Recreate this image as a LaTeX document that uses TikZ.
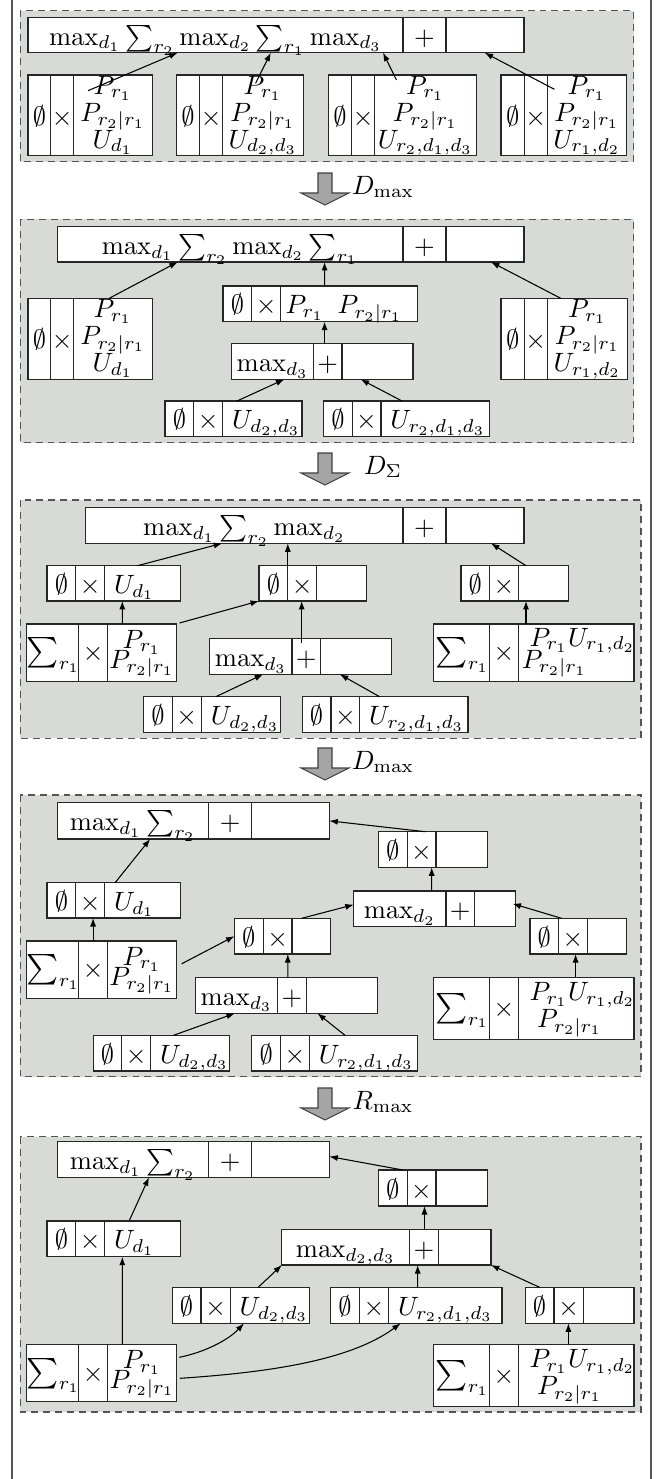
\documentclass[tikz,border=0pt]{standalone}
\usepackage{graphicx}
\usetikzlibrary{arrows.meta,calc}
\definecolor{panelgray}{RGB}{216,218,213}
\definecolor{arrowgray}{RGB}{165,165,165}
\definecolor{framegray}{RGB}{85,85,85}

% one drawing unit of the layout grid
\newcommand\pxu{0.377pt}

% record box: name, left, top, right, bottom, first divider, second divider
\newcommand\rec[7]{%
  \node[rec, minimum width={(#4-#2)*\pxu}, minimum height={(#5-#3)*\pxu}]
    (#1) at ({(#2+#4)/2},{(#3+#5)/2}) {};
  \draw[divl] (#6,#3) -- (#6,#5);
  \draw[divl] (#7,#3) -- (#7,#5);
  \coordinate (#1a) at ({(#2+#6)/2},{(#3+#5)/2});
  \coordinate (#1b) at ({(#6+#7)/2},{(#3+#5)/2});
  \coordinate (#1c) at ({(#7+#4)/2},{(#3+#5)/2});
  \coordinate (#1w) at (#7,{(#3+#5)/2});
}
% a slightly enlarged summation sign
\newcommand\bigsum{\mathop{\scalebox{1.15}{$\sum$}}\nolimits}
% empty set and product cells
\newcommand\ox[1]{%
  \node[ln] (#1x) at ($(#1a)+(0,10)$) {$\emptyset$};
  \node[ln] (#1y) at ($(#1b)+(0,10)$) {$\times$};}
% summation and product cells
\newcommand\sx[1]{%
  \node[ln] (#1x) at ($(#1a)+(1,8)$) {$\bigsum_{r_1}$};
  \node[ln] (#1y) at ($(#1b)+(0,8)$) {$\times$};}
% operator sequence and sum cells
\newcommand\tx[2]{%
  \node[ln] (#1x) at ($(#1a)+(0,10)$) {$#2$};
  \node[ln] (#1y) at ($(#1b)+(0,10)$) {$+$};}
% single factor in the last cell
\newcommand\ut[2]{\node[lnw] (#1z) at ($(#1w)+(9,10)$) {$#2$};}
% three stacked factors
\newcommand\three[4]{%
  \node[ln] (#1z1) at ($(#1c |- #1.north)+(0,19)$) {$#2$};
  \node[ln] (#1z2) at ($(#1c |- #1.north)+(0,46)$) {$#3$};
  \node[ln] (#1z3) at ($(#1c |- #1.north)+(0,73)$) {$#4$};}
% two stacked factors, centred
\newcommand\two[5]{%
  \node[ln] (#1z1) at ($(#1c |- #1.north)+(0,#4)$) {$#2$};
  \node[ln] (#1z2) at ($(#1c |- #1.north)+(0,#5)$) {$#3$};}
% two stacked factors, placed from the cell's left side
\newcommand\twol[7]{%
  \node[lnw] (#1z1) at ($(#1w |- #1.north)+(#4,#5)$) {$#2$};
  \node[lnw] (#1z2) at ($(#1w |- #1.north)+(#6,#7)$) {$#3$};}
% transformation step between two stages
\newcommand\step[3]{%
  \draw[bigarrow] (318,#1) -- (332,#1) -- (332,#1+20) -- (349,#1+20)
    -- (325,#1+32) -- (301,#1+20) -- (318,#1+20) -- cycle;
  \node[ln] (#3) at (383,#1+21) {$#2$};}

\tikzset{
  rec/.style={draw=black!85, fill=white, line width=0.45pt, inner sep=0pt, outer sep=0pt},
  divl/.style={draw=black!85, line width=0.45pt},
  ln/.style={anchor=base, inner sep=0pt},
  lnw/.style={anchor=base west, inner sep=0pt},
  panel/.style={fill=panelgray, draw=framegray, line width=0.5pt, dash pattern=on 2.6pt off 1.9pt},
  frame/.style={draw=framegray, line width=0.55pt},
  arr/.style={-{Latex[length=3.2pt,width=2.3pt]}, line width=0.4pt},
  bigarrow/.style={fill=arrowgray, draw=black!75, line width=0.4pt},
}

\begin{document}
\begin{tikzpicture}[x=\pxu, y=-\pxu]
\useasboundingbox (0,0) rectangle (663,1479);
\draw[frame] (12,0) -- (12,1479);
\draw[frame] (651,0) -- (651,1479);

% ---------------- stage 1
\draw[panel] (20.3,10.5) rectangle (633.5,161.7);
\rec{T1}{28}{17.3}{524}{52.7}{403}{446}
\tx{T1}{\max_{d_1}\sum_{r_2}\max_{d_2}\sum_{r_1}\max_{d_3}}
\rec{A1}{28}{75}{152.4}{155.7}{50.8}{73.6}\ox{A1}
\three{A1}{P_{r_1}}{P_{r_2|r_1}}{U_{d_1}}
\rec{B1}{176.5}{75}{303.4}{155.7}{199.7}{222.6}\ox{B1}
\three{B1}{P_{r_1}}{P_{r_2|r_1}}{U_{d_2,d_3}}
\rec{C1}{328.4}{75}{476.5}{155.7}{351.7}{374.5}\ox{C1}
\three{C1}{P_{r_1}}{P_{r_2|r_1}}{U_{r_2,d_1,d_3}}
\rec{D1}{501}{75}{626.8}{155.7}{524.4}{547.2}\ox{D1}
\three{D1}{P_{r_1}}{P_{r_2|r_1}}{U_{r_1,d_2}}
\draw[arr] ($(A1.north west)+(60,15.7)$) -- ($(T1.south west)+(149.7,0)$);
\draw[arr] ($(B1.north west)+(79.1,8.3)$) -- ($(T1.south west)+(242.8,0)$);
\draw[arr] ($(C1.north west)+(68.1,5)$) -- ($(T1.south west)+(355,0)$);
\draw[arr] ($(D1.north west)+(53.4,14.3)$) -- ($(T1.south west)+(456.6,0)$);

\step{173}{D_{\max}}{lab1}

% ---------------- stage 2
\draw[panel] (20.3,219.3) rectangle (633.5,442.7);
\rec{T2}{57.1}{226.7}{524}{262}{403}{446}
\tx{T2}{\max_{d_1}\sum_{r_2}\max_{d_2}\sum_{r_1}}
\rec{A2}{28}{298.3}{152.4}{379.3}{50.8}{73.6}\ox{A2}
\three{A2}{P_{r_1}}{P_{r_2|r_1}}{U_{d_1}}
\rec{D2}{501}{298.3}{627.6}{379.3}{524.4}{547.2}\ox{D2}
\three{D2}{P_{r_1}}{P_{r_2|r_1}}{U_{r_1,d_2}}
\rec{M2}{223}{286}{417.7}{321.7}{251.8}{280.6}\ox{M2}
\node[ln] (M2z) at ($(M2c)+(-5,10)$) {$P_{r_1}\enskip P_{r_2|r_1}$};
\rec{X2}{231.9}{343.7}{413}{379.3}{313.6}{342}\tx{X2}{\max_{d_3}}
\rec{E2}{165}{401}{302}{436.7}{193.8}{222.6}\ox{E2}\ut{E2}{U_{d_2,d_3}}
\rec{F2}{323.7}{401}{489.6}{436.7}{352.1}{380.9}\ox{F2}\ut{F2}{U_{r_2,d_1,d_3}}
\draw[arr] ($(A2.north west)+(81.2,0)$) -- ($(T2.south west)+(120.6,0)$);
\draw[arr] ($(M2.north west)+(101.6,0)$) -- ($(T2.south west)+(267.5,0)$);
\draw[arr] ($(D2.north west)+(59.7,0)$) -- ($(T2.south west)+(433.9,0)$);
\draw[arr] ($(X2.north west)+(92.7,0)$) -- ($(M2.south west)+(101.6,0)$);
\draw[arr] ($(E2.north west)+(72,0)$) -- ($(X2.south west)+(52.5,0)$);
\draw[arr] ($(F2.north west)+(78.3,0)$) -- ($(X2.south west)+(128.7,0)$);

\step{453}{D_{\Sigma}}{lab2}

% ---------------- stage 3
\draw[panel] (20.3,500) rectangle (641,738.3);
\rec{T3}{85.9}{507.7}{524}{543.3}{403}{446}
\tx{T3}{\max_{d_1}\sum_{r_2}\max_{d_2}}
\rec{L13}{47}{565.7}{180.7}{601}{75.8}{104.5}\ox{L13}\ut{L13}{U_{d_1}}
\rec{M13}{259}{565.7}{366.5}{601}{287.8}{316.6}\ox{M13}
\rec{R13}{460.9}{565.7}{568.8}{601}{489.6}{518.4}\ox{R13}
\rec{L23}{26.2}{624}{176.5}{681.7}{78.7}{107.5}\sx{L23}
\two{L23}{P_{r_1}}{P_{r_2|r_1}}{24}{44}
\rec{R23}{433.4}{624}{634}{681.7}{489.6}{518.4}\sx{R23}
\twol{R23}{P_{r_1}U_{r_1,d_2}}{P_{r_2|r_1}}{10.6}{22}{3}{44}
\rec{X3}{209.9}{638.7}{391.5}{674.3}{292}{320.4}\tx{X3}{\max_{d_3}}
\rec{E3}{143.9}{696.7}{280.2}{732.3}{172.2}{201.4}\ox{E3}\ut{E3}{U_{d_2,d_3}}
\rec{F3}{302.2}{696.7}{468}{732.3}{331}{359.7}\ox{F3}\ut{F3}{U_{r_2,d_1,d_3}}
\draw[arr] ($(L13.north west)+(90.5,0)$) -- ($(T3.south west)+(136.3,0)$);
\draw[arr] ($(M13.north west)+(28.8,0)$) -- ($(T3.south west)+(201.9,0)$);
\draw[arr] ($(R13.north west)+(65.1,0)$) -- ($(T3.south west)+(405.1,0)$);
\draw[arr] ($(L23.north west)+(96.1,0)$) -- ($(L13.south west)+(75.3,0)$);
\draw[arr] ($(L23.north east)+(3,-1)$) -- (M13.south west);
\draw[arr] ($(X3.north west)+(91.8,4.3)$) -- ($(M13.south west)+(42.7,0)$);
\draw[arr] ($(R23.north west)+(92.6,0)$) -- ($(R13.south west)+(65.1,0)$);
\draw[arr] ($(E3.north west)+(71.9,0)$) -- ($(X3.south west)+(53.3,0)$);
\draw[arr] ($(F3.north west)+(77.4,0)$) -- ($(X3.south west)+(129.9,0)$);

\step{748}{D_{\max}}{lab3}

% ---------------- stage 4
\draw[panel] (20.3,795) rectangle (641,1076.7);
\rec{T4}{57.1}{802.7}{329.3}{839}{208.6}{251.8}\tx{T4}{\max_{d_1}\sum_{r_2}}
\rec{U4}{378.3}{831.7}{487.5}{867.3}{407.1}{435.9}\ox{U4}
\rec{L14}{47}{882.7}{180.7}{918}{75.8}{104.5}\ox{L14}\ut{L14}{U_{d_1}}
\rec{Y4}{353.8}{891}{515.5}{926.3}{446}{474.4}\tx{Y4}{\max_{d_2}}
\rec{M4}{234.5}{918.3}{330.5}{954}{263.2}{292}\ox{M4}
\rec{R14}{529.9}{918.3}{626.3}{954}{558.6}{587.4}\ox{R14}
\rec{L24}{26.2}{941}{176.5}{998.7}{78.7}{107.5}\sx{L24}
\two{L24}{P_{r_1}}{P_{r_2|r_1}}{24}{44}
\rec{X4}{195.5}{977.3}{377.1}{1013.3}{277.6}{306.4}\tx{X4}{\max_{d_3}}
\rec{R24}{433.4}{977.3}{634}{1039.3}{489.6}{518.4}\sx{R24}
\twol{R24}{P_{r_1}U_{r_1,d_2}}{P_{r_2|r_1}}{10.6}{23}{18.2}{50}
\rec{E4}{93.1}{1035.3}{229.8}{1071}{121.9}{150.7}\ox{E4}\ut{E4}{U_{d_2,d_3}}
\rec{F4}{251.8}{1035.3}{417.7}{1071}{280.6}{309.4}\ox{F4}\ut{F4}{U_{r_2,d_1,d_3}}
\draw[arr] ($(U4.north west)+(47,0)$) -- (T4.east);
\draw[arr] ($(L14.north west)+(68.1,0)$) -- ($(T4.south west)+(93.1,0)$);
\draw[arr] ($(L24.north west)+(66.9,0)$) -- ($(L14.south west)+(46.1,0)$);
\draw[arr] ($(L24.east)+(5,-6)$) -- (M4.west);
\draw[arr] ($(M4.north west)+(67.2,0)$) -- ($(Y4.west)+(0,-4)$);
\draw[arr] ($(Y4.north west)+(77.9,0)$) -- ($(U4.south west)+(53.4,0)$);
\draw[arr] ($(R14.north west)+(31.7,0)$) -- ($(Y4.east)+(-3,-5)$);
\draw[arr] ($(X4.north west)+(92.3,0)$) -- ($(M4.south west)+(53.3,0)$);
\draw[arr] ($(R24.north west)+(142.2,0)$) -- ($(R14.south west)+(45.7,0)$);
\draw[arr] ($(E4.north west)+(80.4,0)$) -- ($(X4.south west)+(39.4,0)$);
\draw[arr] ($(F4.north west)+(93.2,0)$) -- ($(X4.south west)+(121.9,0)$);

\step{1088}{R_{\max}}{lab4}

% ---------------- stage 5
\draw[panel] (20.3,1136.7) rectangle (641,1412);
\rec{T5}{57.1}{1141.7}{329.3}{1177.3}{208.6}{251.8}\tx{T5}{\max_{d_1}\sum_{r_2}}
\rec{U5}{378.3}{1170}{487.5}{1206}{407.1}{435.9}\ox{U5}
\rec{L15}{47}{1221}{180.7}{1256.7}{75.8}{104.5}\ox{L15}\ut{L15}{U_{d_1}}
\rec{Y5}{281.9}{1229.3}{490.9}{1265}{409.7}{438.4}\tx{Y5}{\max_{d_2,d_3}}
\rec{E5}{172.2}{1287.3}{309.4}{1323.3}{201}{230.2}\ox{E5}\ut{E5}{U_{d_2,d_3}}
\rec{F5}{330.5}{1287.3}{501.9}{1323.3}{359.3}{388.5}\ox{F5}\ut{F5}{U_{r_2,d_1,d_3}}
\rec{R15}{525.2}{1287.3}{634}{1323.3}{554}{583.2}\ox{R15}
\rec{L25}{26.2}{1344.3}{176.9}{1401.7}{78.7}{107.5}\sx{L25}
\two{L25}{P_{r_1}}{P_{r_2|r_1}}{24}{44}
\rec{R25}{433.4}{1344.3}{634}{1406.7}{489.6}{518.4}\sx{R25}
\twol{R25}{P_{r_1}U_{r_1,d_2}}{P_{r_2|r_1}}{10.6}{23}{18.2}{50}
\draw[arr] ($(U5.north west)+(24.6,0)$) -- ($(T5.east)+(0,-3)$);
\draw[arr] ($(L15.north west)+(82.1,0)$) -- ($(T5.south west)+(91.9,0)$);
\draw[arr] ($(L25.north west)+(96.1,0)$) -- ($(L15.south west)+(75.3,0)$);
\draw[arr] ($(Y5.north west)+(142.6,0)$) -- ($(U5.south west)+(46.2,0)$);
\draw[arr] ($(E5.north west)+(86,0)$) -- (Y5.south west);
\draw[arr] ($(F5.north west)+(87.2,0)$) -- ($(Y5.south west)+(135.8,0)$);
\draw[arr] ($(R15.north west)+(14.4,0)$) -- (Y5.south east);
\draw[arr] ($(R25.north west)+(135,0)$) -- ($(R15.south west)+(43.2,0)$);
\draw[arr] ($(L25.north east)+(2.4,13)$) .. controls +(25,-5) and +(-16,17) .. ($(E5.south west)+(71.8,0)$);
\draw[arr] ($(L25.east)+(3,5.3)$) .. controls +(90,-6) and +(-50,37) .. ($(F5.south west)+(70.2,0)$);
\end{tikzpicture}
\end{document}
